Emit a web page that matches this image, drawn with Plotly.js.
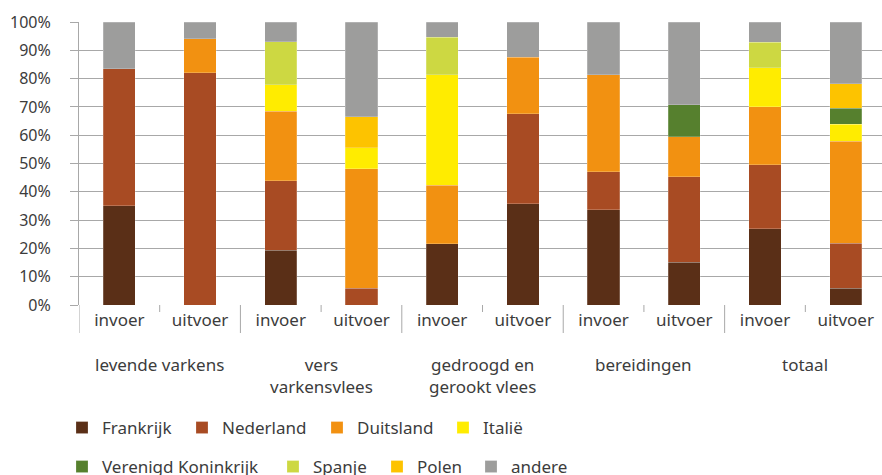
<!DOCTYPE html>
<html>
<head>
<meta charset="utf-8">
<script src="https://cdn.plot.ly/plotly-3.0.1.min.js"></script>
<style>html,body{margin:0;padding:0;overflow:hidden;background:#fff}</style>
</head>
<body>
<div id="chart" style="width:882px;height:475px"></div>
<script>
// ---- data ----
const subLabels = ["invoer","uitvoer","invoer","uitvoer","invoer","uitvoer","invoer","uitvoer","invoer","uitvoer"];
const groupLabels = ["levende varkens","vers<br>varkensvlees","gedroogd en<br>gerookt vlees","bereidingen","totaal"];
const yTickVals = [0,10,20,30,40,50,60,70,80,90,100];
const yTickText = ["0%","10%","20%","30%","40%","50%","60%","70%","80%","90%","100%"];

const frankrijk = [35.0, 0,    19.4, 0,    21.6, 35.7, 33.6, 15.1, 26.9, 6.0];
const nederland = [48.4, 82.0, 24.5, 6.0,  0,    31.8, 13.5, 30.3, 22.6, 15.9];
const duitsland = [0,    12.1, 24.5, 42.2, 20.7, 20.1, 34.3, 14.1, 20.5, 36.0];
const italie    = [0,    0,    9.4,  7.4,  39.0, 0,    0,    0,    13.9, 5.9];
const vk        = [0,    0,    0,    0,    0,    0,    0,    11.3, 0,    5.7];
const spanje    = [0,    0,    15.2, 0,    13.4, 0,    0,    0,    8.9,  0];
const polen     = [0,    0,    0,    10.9, 0,    0,    0,    0,    0,    8.6];
const andere    = [16.6, 5.9,  7.0,  33.5, 5.3,  12.4, 18.6, 29.2, 7.2,  21.9];

const seriesNames = ["Frankrijk","Nederland","Duitsland","Italië","Verenigd Koninkrijk","Spanje","Polen","andere"];
const seriesData = [frankrijk, nederland, duitsland, italie, vk, spanje, polen, andere];
const seriesColors = ["#5a2f17","#a84b23","#f29111","#ffec00","#56802e","#cdd842","#fdc300","#9d9d9c"];

// ---- layout helpers ----
const W = 882, H = 475;
const FONT = "Noto Sans, sans-serif";
const TXT = "#3c3c3c";
const GRID = "#a8a8a8";
// legend entry positions (square left x, row centre y) in pixels
const legendPos = [[76,428],[196,428],[331,428],[457,428],[76,467],[287,467],[391,467],[485,467]];

const xIdx = subLabels.map((_, i) => i);
const traces = seriesNames.map((name, k) => ({
  type: "bar",
  name: name,
  x: xIdx,
  y: seriesData[k].map(v => v === 0 ? null : v),
  marker: {color: seriesColors[k], line: {color: "rgba(255,255,255,0.35)", width: 0.6}},
  legend: k === 0 ? "legend" : "legend" + (k + 1),
  hoverinfo: "name+y"
}));

const layout = {
  width: W, height: H,
  margin: {l: 79, r: 0, t: 22, b: 170},
  paper_bgcolor: "#fff", plot_bgcolor: "#fff",
  barmode: "stack",
  bargap: 0.6,
  font: {family: FONT, size: 16, color: TXT},
  xaxis: {
    range: [-0.5, 9.45],
    tickmode: "array", tickvals: xIdx, ticktext: subLabels,
    ticks: "", showgrid: false, zeroline: false, showline: false,
    tickfont: {family: FONT, size: 17, color: TXT},
    ticklabelstandoff: 3
  },
  yaxis: {
    range: [0, 100],
    tickmode: "array", tickvals: yTickVals, ticktext: yTickText,
    ticks: "outside", ticklen: 8, tickcolor: GRID, tickwidth: 1,
    showgrid: true, gridcolor: GRID, gridwidth: 1,
    zeroline: false, showline: true, linecolor: GRID, linewidth: 1,
    tickfont: {family: FONT, size: 16, color: TXT},
    ticklabelstandoff: 16
  },
  shapes: [],
  annotations: [],
  showlegend: true
};

// group dividers and inner ticks below the axis
for (let g = 0; g <= 5; g++) {
  layout.shapes.push({type: "line", xref: "x", yref: "paper", ysizemode: "pixel", yanchor: 0,
    x0: 2 * g - 0.5, x1: 2 * g - 0.5, y0: 0, y1: -28, line: {color: GRID, width: 1}});
}
for (let g = 0; g < 5; g++) {
  layout.shapes.push({type: "line", xref: "x", yref: "paper", ysizemode: "pixel", yanchor: 0,
    x0: 2 * g + 0.5, x1: 2 * g + 0.5, y0: 0, y1: -7, line: {color: GRID, width: 1}});
  layout.annotations.push({xref: "x", yref: "paper", x: 2 * g + 0.5, y: 0, yanchor: "top",
    yshift: -46, showarrow: false, text: groupLabels[g], align: "center",
    font: {family: FONT, size: 17, color: TXT}});
}

// one legend per entry for exact placement
legendPos.forEach((p, k) => {
  const key = k === 0 ? "legend" : "legend" + (k + 1);
  layout[key] = {
    xref: "container", yref: "container",
    x: (p[0] - 14) / W, y: 1 - p[1] / H, xanchor: "left", yanchor: "middle",
    orientation: "h", bgcolor: "rgba(0,0,0,0)", borderwidth: 0,
    font: {family: FONT, size: 17, color: TXT}
  };
});

Plotly.newPlot("chart", traces, layout, {displayModeBar: false, staticPlot: true});
</script>
</body>
</html>
